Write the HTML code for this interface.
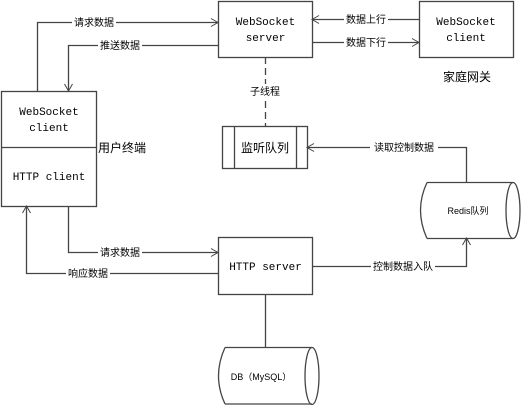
<!DOCTYPE html>
<html><head><meta charset="utf-8"><style>
body{margin:0;background:#fff}
svg{display:block}
text{font-family:"Liberation Mono","Noto Sans CJK SC",monospace;font-size:11px;fill:#000}
.c{font-family:"Liberation Sans","Noto Sans CJK SC",sans-serif;font-size:10px}
</style></head><body>
<svg width="522" height="405" viewBox="0 0 522 405">
<defs><marker id="a" markerWidth="10" markerHeight="10" refX="8" refY="5" orient="auto" markerUnits="userSpaceOnUse"><path d="M1,1 L8,5 L1,9" fill="none" stroke="#444" stroke-width="1"/></marker></defs>
<g fill="none" stroke="#444" stroke-width="1.3">
<rect x="218.5" y="1.5" width="94" height="56" fill="#fff"/>
<rect x="419.5" y="1.5" width="94" height="56" fill="#fff"/>
<rect x="1.5" y="91.5" width="95" height="115" fill="#fff"/>
<line x1="1.5" y1="147.5" x2="96.5" y2="147.5"/>
<rect x="222.5" y="126.5" width="85" height="42"/>
<line x1="234.5" y1="126.5" x2="234.5" y2="168.5"/>
<line x1="296.5" y1="126.5" x2="296.5" y2="168.5"/>
<rect x="218.5" y="237.5" width="94" height="57"/>
<path d="M37.5,91 V22.5 H218" marker-end="url(#a)"/>
<path d="M218,45.5 H68.5 V91" marker-end="url(#a)"/>
<path d="M419,19.5 H312" marker-end="url(#a)"/>
<path d="M312,42.5 H419" marker-end="url(#a)"/>
<path d="M265.5,57 V126" stroke-dasharray="7,4"/>
<path d="M466.5,182 V147.5 H307" marker-end="url(#a)"/>
<path d="M68.5,206 V252.5 H218" marker-end="url(#a)"/>
<path d="M218,273.5 H26.5 V206" marker-end="url(#a)"/>
<path d="M312,266.5 H466.5 V238" marker-end="url(#a)"/>
<path d="M265.5,294 V347"/>
<path d="M427,182.5 H513 M427,238.5 H513 M427,182.5 Q414,210 427,238.5"/>
<ellipse cx="513" cy="210.5" rx="7" ry="28"/>
<path d="M225,347.5 H312 M225,404 H312 M225,347.5 Q212,376 225,404"/>
<ellipse cx="312" cy="376" rx="7" ry="28.5"/>
</g>
<g fill="#fff">
<rect x="72" y="15" width="44" height="14"/><rect x="98" y="38" width="44" height="14"/>
<rect x="344" y="12" width="44" height="14"/><rect x="344" y="35" width="44" height="14"/>
<rect x="248" y="84" width="34" height="14"/><rect x="370" y="140" width="68" height="14"/>
<rect x="98" y="245" width="44" height="14"/><rect x="66" y="266" width="44" height="14"/>
<rect x="371" y="259" width="64" height="14"/>
</g>
<text x="265.5" y="25" text-anchor="middle">WebSocket</text>
<text x="265.5" y="41" text-anchor="middle">server</text>
<text x="466" y="25" text-anchor="middle">WebSocket</text>
<text x="466" y="41" text-anchor="middle">client</text>
<text x="49" y="115" text-anchor="middle">WebSocket</text>
<text x="49" y="131" text-anchor="middle">client</text>
<text x="49" y="180" text-anchor="middle">HTTP client</text>
<text x="265.5" y="270" text-anchor="middle">HTTP server</text>
<text class="c" x="98" y="152" style="font-size:12px">用户终端</text>
<text class="c" x="467" y="81" text-anchor="middle" style="font-size:12px">家庭网关</text>
<text class="c" x="265" y="152" text-anchor="middle" style="font-size:12px">监听队列</text>
<text class="c" x="94" y="26" text-anchor="middle">请求数据</text>
<text class="c" x="120" y="49" text-anchor="middle">推送数据</text>
<text class="c" x="366" y="23" text-anchor="middle">数据上行</text>
<text class="c" x="366" y="46" text-anchor="middle">数据下行</text>
<text class="c" x="265" y="95" text-anchor="middle">子线程</text>
<text class="c" x="404" y="151" text-anchor="middle">读取控制数据</text>
<text class="c" x="120" y="256" text-anchor="middle">请求数据</text>
<text class="c" x="88" y="277" text-anchor="middle">响应数据</text>
<text class="c" x="403" y="270" text-anchor="middle">控制数据入队</text>
<text class="c" x="468" y="214" text-anchor="middle" style="font-size:9px">Redis队列</text>
<text class="c" x="261" y="380" text-anchor="middle" style="font-size:9px">DB（MySQL）</text>
</svg>
</body></html>
